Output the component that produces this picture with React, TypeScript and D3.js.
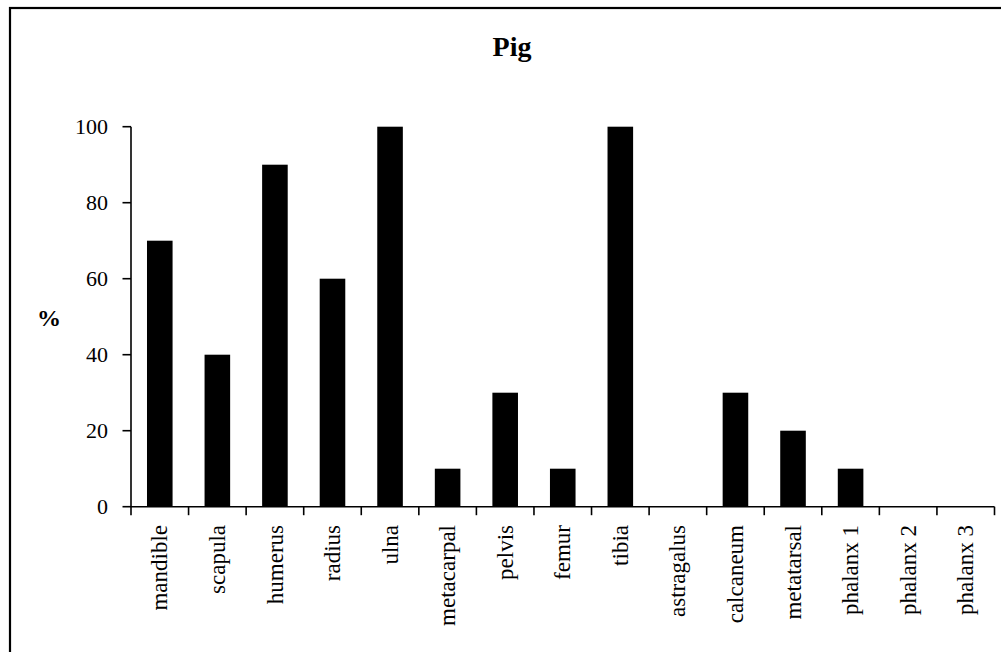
import React from "react";
import * as d3 from "d3";

const categories = [
  "mandible", "scapula", "humerus", "radius", "ulna", "metacarpal", "pelvis",
  "femur", "tibia", "astragalus", "calcaneum", "metatarsal", "phalanx 1",
  "phalanx 2", "phalanx 3",
];
const values = [70, 40, 90, 60, 100, 10, 30, 10, 100, 0, 30, 20, 10, 0, 0];
const yTicks = [0, 20, 40, 60, 80, 100];
const title = "Pig";
const yLabel = "%";

const W = 1001;
const H = 652;
const left = 131;
const right = 994.5;
const top = 126.7;
const bottom = 506.7;
const FONT = "'Liberation Serif', 'Times New Roman', serif";

export default function App() {
  const x = d3.scaleBand<string>().domain(categories).range([left, right]).paddingInner(0).paddingOuter(0);
  const y = d3.scaleLinear().domain([0, 100]).range([bottom, top]);
  const bw = x.bandwidth() / 2.25;
  const boundaries = d3.range(categories.length + 1).map((i) => left + i * x.step());

  return (
    <svg
      width={W}
      height={H}
      style={{ position: "absolute", left: 0, top: 0, display: "block", background: "#fff" }}
    >
      <rect x={10} y={8} width={W + 20} height={H + 20} fill="#fff" stroke="#000" strokeWidth={2.2} />
      <text x={512} y={56} textAnchor="middle" fontFamily={FONT} fontWeight="bold" fontSize={28}>
        {title}
      </text>
      <text x={49} y={326} textAnchor="middle" fontFamily={FONT} fontWeight="bold" fontSize={24}>
        {yLabel}
      </text>
      {categories.map((c, i) => (
        <rect
          key={c}
          x={(x(c) as number) + (x.bandwidth() - bw) / 2}
          y={y(values[i])}
          width={bw}
          height={bottom - y(values[i])}
          fill="#000"
        />
      ))}
      <line x1={left} x2={left} y1={top} y2={bottom} stroke="#000" strokeWidth={1.6} />
      <line x1={left} x2={right} y1={bottom} y2={bottom} stroke="#000" strokeWidth={1.6} />
      {yTicks.map((t) => (
        <g key={t}>
          <line x1={left - 8.5} x2={left} y1={y(t)} y2={y(t)} stroke="#000" strokeWidth={1.6} />
          <text x={108} y={y(t)} dy="0.35em" textAnchor="end" fontFamily={FONT} fontSize={22}>
            {t}
          </text>
        </g>
      ))}
      {boundaries.map((b, i) => (
        <line key={i} x1={b} x2={b} y1={bottom} y2={bottom + 8.5} stroke="#000" strokeWidth={1.6} />
      ))}
      {categories.map((c) => {
        const cx = (x(c) as number) + x.bandwidth() / 2;
        return (
          <text
            key={c}
            transform={`translate(${cx},525) rotate(-90)`}
            dy="0.33em"
            textAnchor="end"
            fontFamily={FONT}
            fontSize={23}
          >
            {c}
          </text>
        );
      })}
    </svg>
  );
}
